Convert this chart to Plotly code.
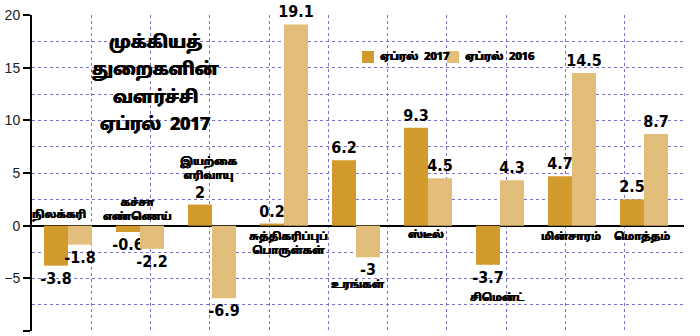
import plotly.graph_objects as go

categories = ["நிலக்கரி", "கச்சா எண்ணெய்", "இயற்கை எரிவாயு", "சுத்திகரிப்புப் பொருள்கள்",
              "உரங்கள்", "ஸ்டீல்", "சிமென்ட்", "மின்சாரம்", "மொத்தம்"]
april_2017 = [-3.8, -0.6, 2, 0.2, 6.2, 9.3, -3.7, 4.7, 2.5]
april_2016 = [-1.8, -2.2, -6.9, 19.1, -3, 4.5, 4.3, 14.5, 8.7]
series_names = ["ஏப்ரல்  2017", "ஏப்ரல்  2016"]
y_ticks = [-10, -5, 0, 5, 10, 15, 20]
title_lines = ["முக்கியத்", "துறைகளின்", "வளர்ச்சி", "ஏப்ரல்  2017"]
category_label_lines = ["நிலக்கரி", "கச்சா<br>எண்ணெய்", "இயற்கை<br>எரிவாயு", "சுத்திகரிப்புப்<br>பொருள்கள்",
                        "உரங்கள்", "ஸ்டீல்", "சிமென்ட்", "மின்சாரம்", "மொத்தம்"]

# layout-only placement of category captions (offset from category, y in data units)
label_pos = [(-0.12, 1.0), (-0.04, 1.4), (-0.04, 5.3), (0.06, -1.8), (0.03, -5.7),
             (-0.03, -0.95), (-0.04, -6.9), (-0.01, -1.15), (-0.03, -1.15)]

C2017 = "#D19A2C"
C2016 = "#E3BE7B"
GRID = "#7B70D2"
TAMIL = "Noto Sans Tamil, Latha, Noto Sans, sans-serif"
NUM = "DejaVu Sans Condensed, Liberation Sans Narrow, sans-serif"
BOLDISH = "0.5px 0 0 #000, -0.3px 0 0 #000"

W, H = 700, 336
ML, MR, MT, MB = 32, 16, 15, 5
PW, PH = W - ML - MR, H - MT - MB
X_LO, X_HI = -0.5, 8.556
cat_pos = list(range(len(categories)))
# vertical grid: 11 equal intervals across the plot width
x_grid = [X_LO + k * (X_HI - X_LO) / 11 for k in range(12)]

def px(xp):
    return (xp - ML) / PW

def py(yp):
    return 1 - (yp - MT) / PH

def fmt(v):
    return "{:g}".format(v)

fig = go.Figure()
for name, vals, col in [(series_names[0], april_2017, C2017), (series_names[1], april_2016, C2016)]:
    fig.add_trace(go.Bar(
        x=cat_pos, y=vals, name=name, customdata=categories,
        marker=dict(color=col, line=dict(width=0)),
        text=[fmt(v) for v in vals], textposition="outside", cliponaxis=False,
        textfont=dict(family=NUM, size=16, color="black", weight="bold"),
        constraintext="none", showlegend=False,
        hovertemplate="%{customdata}: %{y}<extra>" + name + "</extra>",
    ))

annotations = []
for line, yp in zip(title_lines, [43, 70, 98, 125]):
    annotations.append(dict(text=line, xref="paper", yref="paper", x=px(155), y=py(yp),
                            xanchor="center", yanchor="middle", showarrow=False,
                            font=dict(family=TAMIL, size=17.5, color="black", weight="bold",
                                      shadow="0.6px 0 0 #000, -0.4px 0 0 #000")))
for i, (lab, (dx, yy)) in enumerate(zip(category_label_lines, label_pos)):
    annotations.append(dict(text=lab, x=cat_pos[i] + dx, y=yy, xref="x", yref="y", showarrow=False,
                            font=dict(family=TAMIL, size=10.5, color="black", weight="bold",
                                      shadow=BOLDISH),
                            align="center"))

# hand-drawn legend
shapes = []
for (x0, tx), name, col in zip([(362, 378), (447, 463)], series_names, [C2017, C2016]):
    shapes.append(dict(type="rect", xref="paper", yref="paper", x0=px(x0), x1=px(x0 + 12),
                       y0=py(63), y1=py(51), fillcolor=col, line=dict(width=0)))
    annotations.append(dict(text=name, xref="paper", yref="paper", x=px(tx), y=py(57),
                            xanchor="left", yanchor="middle", showarrow=False,
                            font=dict(family=TAMIL, size=11, color="black", weight="bold",
                                      shadow=BOLDISH)))

fig.update_layout(
    width=W, height=H, margin=dict(l=ML, r=MR, t=MT, b=MB),
    paper_bgcolor="white", plot_bgcolor="white",
    barmode="group", bargap=1/3, bargroupgap=0,
    showlegend=False,
    xaxis=dict(type="linear", range=[X_LO, X_HI], tickmode="array", tickvals=x_grid,
               showgrid=True, gridcolor=GRID, griddash="dot", gridwidth=1,
               showticklabels=False, ticks="", showline=False, zeroline=False),
    yaxis=dict(range=[-10, 20], tickvals=y_ticks, showgrid=True, gridcolor=GRID, griddash="dot",
               gridwidth=1, minor=dict(dtick=2.5, showgrid=True, gridcolor=GRID, griddash="dot", gridwidth=1),
               zeroline=True, zerolinecolor="black", zerolinewidth=2,
               showline=True, linecolor="black", linewidth=2, ticks="outside", ticklen=7,
               tickcolor="black", tickwidth=1.5,
               tickfont=dict(family="Liberation Sans, Arial, sans-serif", size=14, color="#222")),
    annotations=annotations,
    shapes=shapes,
)
fig.write_html("out.html")
